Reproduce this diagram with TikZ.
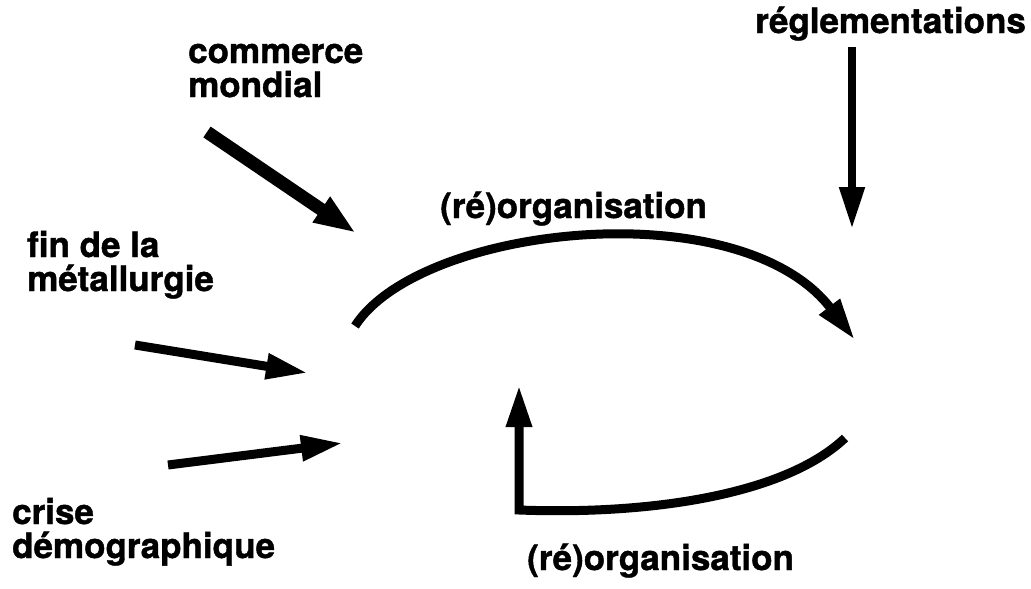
\documentclass[tikz,border=0pt]{standalone}
\usepackage{fontspec}
\setmainfont{TeX Gyre Heros}[BoldFeatures={FakeBold=1.2}]
\usetikzlibrary{arrows.meta}
\begin{document}
\begin{tikzpicture}[x=1pt,y=-1pt,
  lbl/.style={font=\bfseries\fontsize{35}{34}\selectfont, inner sep=0pt, anchor=base west, align=left},
  arr/.style={line width=9pt, line join=miter, -{Triangle[length=42pt,width=24pt]}},
]
\useasboundingbox (0,0) rectangle (1031,589);
% labels (base anchor = baseline of the last line)
\node[lbl] (com) at (188,97) {commerce\\mondial};
\node[lbl] (reg) at (755,33) {réglementations};
\node[lbl] (org1) at (440,218) {(ré)organisation};
\node[lbl] (fin) at (27,291) {fin de la\\métallurgie};
\node[lbl] (cri) at (12,558) {crise\\démographique};
\node[lbl] (org2) at (527,570) {(ré)organisation};
% arrow ends
\coordinate (c1) at (207,132);
\coordinate (c2) at (356,233);
\coordinate (r1) at (852,47);
\coordinate (r2) at (852,229);
\coordinate (f1) at (135,345);
\coordinate (f2) at (308,373);
\coordinate (k1) at (168,465);
\coordinate (k2) at (343,443);
\coordinate (a1) at (355,326);
\coordinate (a2) at (855,340);
\coordinate (b1) at (845,438);
\coordinate (b2) at (519,510);
\coordinate (b3) at (519,385);
% arrows
\draw[arr, line width=13pt, -{Triangle[length=42pt,width=28pt]}] (c1) -- (c2);
\draw[arr, line width=8pt] (r1) -- (r2);
\draw[arr] (f1) -- (f2);
\draw[arr] (k1) -- (k2);
\draw[arr] (a1) .. controls (420,225) and (740,190) .. (a2);
\draw[arr] (b1) .. controls (785,495) and (650,515) .. (b2) -- (b3);
\end{tikzpicture}
\end{document}
